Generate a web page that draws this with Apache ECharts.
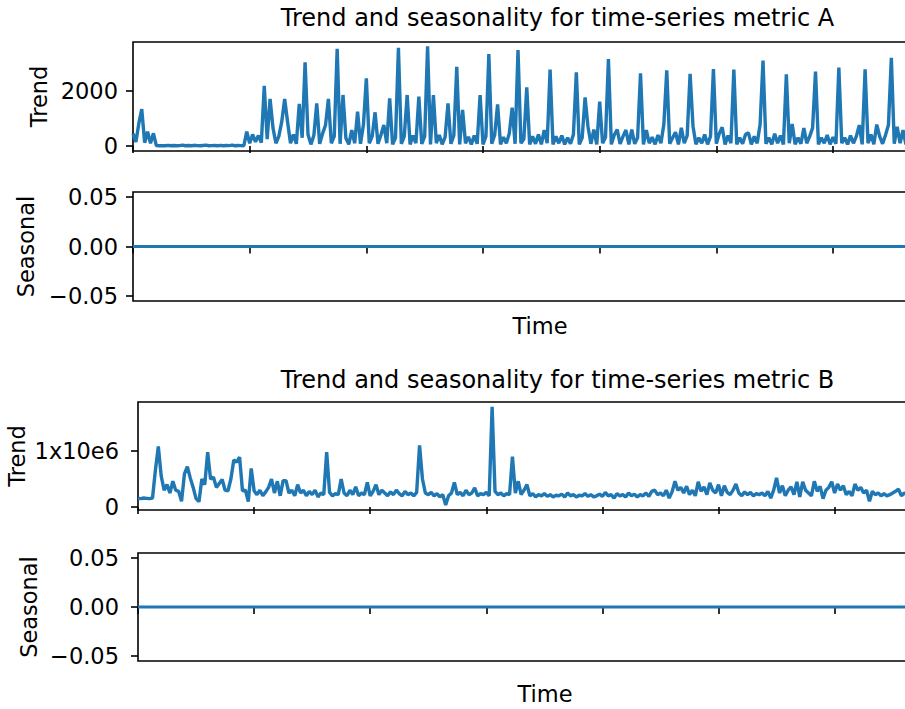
<!DOCTYPE html>
<html>
<head>
<meta charset="utf-8">
<script src="https://cdn.jsdelivr.net/npm/echarts@6/dist/echarts.min.js"></script>
<style>
  html, body { margin: 0; padding: 0; overflow: hidden; background: #fff; }
  #chart { width: 930px; height: 709px; }
</style>
</head>
<body>
<div id="chart"></div>
<script>
// metric A trend, one value per time step
const trendA = [
  450, 150, 820, 1340, 120, 520, 100, 460, 15, 10,
  15, 10, 25, 10, 20, 10, 15, 30, 10, 20,
  10, 25, 15, 10, 20, 30, 10, 15, 20, 10,
  25, 10, 20, 15, 30, 10, 20, 15, 10, 520,
  100, 420, 150, 380, 120, 2190, 250, 1710, 650, 100,
  350, 885, 1710, 870, 100, 420, 80, 1530, 300, 3040,
  420, 60, 380, 1550, 80, 450, 760, 1710, 100, 350,
  3530, 80, 1855, 280, 60, 580, 100, 1250, 80, 760,
  2460, 100, 350, 1225, 80, 400, 760, 100, 1730, 60,
  300, 3575, 80, 350, 1855, 60, 380, 100, 1795, 80,
  350, 3625, 60, 1855, 100, 400, 60, 320, 1550, 80,
  380, 2875, 60, 1310, 100, 330, 60, 380, 80, 1855,
  60, 350, 3345, 80, 400, 1515, 60, 320, 100, 450,
  1395, 80, 3490, 100, 250, 2135, 60, 350, 80, 420,
  60, 580, 100, 2775, 60, 350, 100, 380, 60, 300,
  80, 420, 2680, 60, 300, 1770, 700, 80, 600, 60,
  1610, 100, 320, 3165, 60, 400, 600, 80, 350, 580,
  60, 600, 80, 300, 2640, 60, 580, 100, 320, 60,
  400, 100, 780, 2750, 80, 300, 500, 60, 660, 100,
  380, 2620, 720, 60, 300, 100, 420, 60, 350, 2800,
  80, 450, 680, 60, 380, 100, 2775, 60, 300, 80,
  420, 480, 60, 350, 100, 780, 3105, 80, 300, 60,
  450, 100, 380, 60, 2605, 100, 800, 60, 300, 80,
  650, 100, 350, 660, 2705, 60, 300, 100, 400, 60,
  320, 80, 2850, 100, 300, 60, 380, 100, 350, 760,
  60, 2790, 100, 420, 60, 780, 350, 80, 400, 760,
  3210, 80, 700, 100, 580, 60, 380, 100, 320, 80
];

// metric B trend, in millions
const trendB = [
  0.155, 0.15, 0.16, 0.155, 0.15, 0.16, 0.66, 1.08, 0.55, 0.3,
  0.4, 0.25, 0.46, 0.3, 0.28, 0.1, 0.59, 0.72, 0.52, 0.35,
  0.15, 0.095, 0.5, 0.4, 0.98, 0.5, 0.53, 0.35, 0.42, 0.49,
  0.3, 0.29, 0.5, 0.84, 0.8, 0.89, 0.29, 0.3, 0.095, 0.69,
  0.29, 0.22, 0.3, 0.2, 0.27, 0.35, 0.5, 0.25, 0.46, 0.2,
  0.47, 0.47, 0.25, 0.3, 0.2, 0.4, 0.25, 0.3, 0.2, 0.28,
  0.22, 0.3, 0.18, 0.25, 0.22, 0.98, 0.26, 0.2, 0.24, 0.22,
  0.5, 0.25, 0.2, 0.3, 0.22, 0.36, 0.2, 0.25, 0.22, 0.44,
  0.2, 0.28, 0.4, 0.22, 0.3, 0.25, 0.2, 0.27, 0.22, 0.3,
  0.24, 0.2, 0.28, 0.22, 0.25, 0.2, 0.26, 1.1, 0.5, 0.25,
  0.22, 0.26, 0.2, 0.24, 0.18, 0.22, 0.036, 0.2, 0.25, 0.44,
  0.22, 0.26, 0.2, 0.3, 0.22, 0.25, 0.34, 0.2, 0.24, 0.22,
  0.26, 0.2, 1.79, 0.28, 0.22, 0.25, 0.2, 0.24, 0.22, 0.9,
  0.25, 0.46, 0.22, 0.3, 0.4, 0.2, 0.24, 0.18, 0.22, 0.2,
  0.24, 0.19, 0.22, 0.18, 0.21, 0.2, 0.23, 0.18, 0.25, 0.2,
  0.22, 0.18, 0.21, 0.2, 0.24, 0.19, 0.22, 0.18, 0.2, 0.23,
  0.19, 0.26, 0.2, 0.22, 0.16, 0.24, 0.2, 0.22, 0.18, 0.25,
  0.2, 0.23, 0.18, 0.22, 0.2, 0.25, 0.19, 0.28, 0.3, 0.22,
  0.25, 0.2, 0.3, 0.16, 0.27, 0.46, 0.3, 0.35, 0.25, 0.37,
  0.22, 0.3, 0.2, 0.45, 0.28, 0.36, 0.22, 0.43, 0.3, 0.25,
  0.4, 0.2, 0.38, 0.26, 0.22, 0.3, 0.41, 0.25, 0.2, 0.27,
  0.22, 0.26, 0.2, 0.24, 0.22, 0.25, 0.2, 0.28, 0.16, 0.3,
  0.52, 0.25, 0.38, 0.2, 0.3, 0.36, 0.22, 0.45, 0.18, 0.45,
  0.3, 0.25, 0.2, 0.46, 0.28, 0.37, 0.15, 0.3, 0.35, 0.45,
  0.25, 0.41, 0.3, 0.38, 0.22, 0.28, 0.2, 0.41, 0.3, 0.35,
  0.25, 0.3, 0.1, 0.28, 0.22, 0.25, 0.2, 0.24, 0.2, 0.22,
  0.25, 0.28, 0.32, 0.2, 0.25, 0.22, 0.18, 0.24, 0.2, 0.22
];

// seasonal components are flat zero over the whole range
const seasonalX = [0, 269];
const seasonalA = [0, 0];
const seasonalB = [0, 0];

const trendATicks = [0, 2000];
const trendBTicks = [0, 1];
const seasonalTicks = [-0.05, 0, 0.05];

const FONT = 'DejaVu Sans';
const BLUE = '#1f77b4';
const LABEL_SIZE = 22.5;
const TITLE_SIZE = 24;

const chart = echarts.init(document.getElementById('chart'), null, { renderer: 'svg' });

function grid(top, height, left, width) {
  return {
    top, height, left, width,
    outerBoundsMode: 'none', containLabel: false,
    show: true, borderColor: '#000', borderWidth: 1.6, backgroundColor: 'transparent',
  };
}

function xAxis(gridIndex) {
  return {
    type: 'value', gridIndex, min: 0, max: 269, interval: 40,
    axisLine: { show: false },
    axisTick: { show: true, length: 7, lineStyle: { color: '#000', width: 1.6 } },
    axisLabel: { show: false },
    splitLine: { show: false },
  };
}

function yAxis(gridIndex, min, max, ticks, name, nameGap, margin, fmt) {
  return {
    type: 'value', gridIndex, min, max,
    name, nameLocation: 'middle', nameRotate: 90, nameGap, nameMoveOverlap: false,
    nameTextStyle: { fontFamily: FONT, fontSize: LABEL_SIZE, color: '#000' },
    axisLine: { show: false },
    axisTick: { show: true, length: 7, customValues: ticks, lineStyle: { color: '#000', width: 1.6 } },
    axisLabel: {
      customValues: ticks, margin, fontFamily: FONT, fontSize: LABEL_SIZE, color: '#000',
      formatter: fmt,
    },
    splitLine: { show: false },
  };
}

const seasonalFmt = (v) => (v < 0 ? '\u2212' : '') + Math.abs(v).toFixed(2);

function lineSeries(idx, values, xs, width) {
  return {
    type: 'line', xAxisIndex: idx, yAxisIndex: idx,
    data: values.map((v, i) => [xs ? xs[i] : i, v]),
    showSymbol: false, symbol: 'none', animation: false,
    lineStyle: { color: BLUE, width },
  };
}

function label(x, y, str, size) {
  return {
    type: 'text', x, y,
    style: { text: str, fontFamily: FONT, fontSize: size, fill: '#000', align: 'center', verticalAlign: 'middle' },
  };
}

chart.setOption({
  backgroundColor: '#fff',
  animation: false,
  grid: [
    grid(42, 109, 133, 784.6),
    grid(192, 109, 133, 784.6),
    grid(402, 108, 138, 780.8),
    grid(553, 108, 138, 780.8),
  ],
  xAxis: [xAxis(0), xAxis(1), xAxis(2), xAxis(3)],
  yAxis: [
    yAxis(0, -181.8, 3781.8, trendATicks, 'Trend', 83, 15, (v) => String(v)),
    yAxis(1, -0.055, 0.055, seasonalTicks, 'Seasonal', 96, 15, seasonalFmt),
    yAxis(2, -0.0536, 1.875, trendBTicks, 'Trend', 110, 19, (v) => (v === 0 ? '0' : v + 'x10e6')),
    yAxis(3, -0.055, 0.055, seasonalTicks, 'Seasonal', 98, 19, seasonalFmt),
  ],
  series: [
    lineSeries(0, trendA, null, 3.4),
    lineSeries(1, seasonalA, seasonalX, 3),
    lineSeries(2, trendB, null, 3.4),
    lineSeries(3, seasonalB, seasonalX, 3),
  ],
  graphic: [
    label(557.5, 18, 'Trend and seasonality for time-series metric A', TITLE_SIZE),
    label(540, 326, 'Time', LABEL_SIZE),
    label(557.5, 380, 'Trend and seasonality for time-series metric B', TITLE_SIZE),
    label(545, 694, 'Time', LABEL_SIZE),
  ],
});
</script>
</body>
</html>
